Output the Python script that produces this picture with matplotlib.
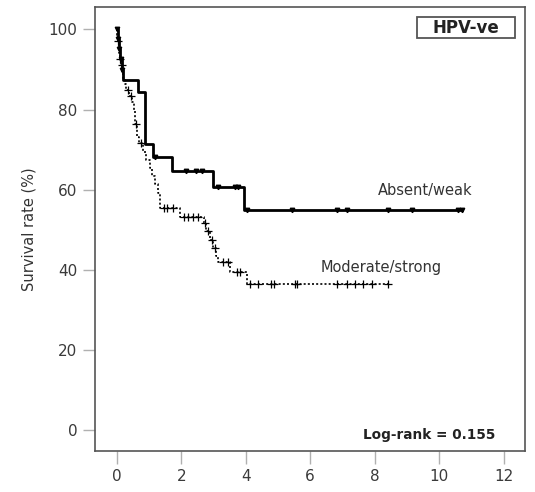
import matplotlib
matplotlib.use("Agg")
import matplotlib.pyplot as plt
from matplotlib.patches import Rectangle
import numpy as np

# Kaplan-Meier steps (time in years, survival %)
absent_times = [0, 0.03, 0.06, 0.1, 0.15, 0.2, 0.66, 0.88, 1.12, 1.7, 2.99, 3.96]
absent_surv = [100, 97.5, 95, 92.5, 90, 87.5, 84.5, 71.4, 68.2, 64.7, 60.7, 55.0]
absent_end = 10.7
absent_censor = [0.02, 0.05, 0.08, 0.12, 0.17, 1.18, 2.16, 2.47, 2.63, 3.15,
                 3.66, 3.77, 4.03, 5.43, 6.82, 7.13, 8.43, 9.15, 10.6, 10.7]

moderate_times = [0, 0.02, 0.04, 0.06, 0.08, 0.1, 0.13, 0.16, 0.2, 0.25, 0.3,
                  0.38, 0.46, 0.52, 0.58, 0.62, 0.7, 0.82, 0.92, 1.02, 1.1,
                  1.18, 1.28, 1.35, 1.96, 2.7, 2.78, 2.88, 2.99, 3.08, 3.15,
                  3.51, 4.03]
moderate_surv = [100, 98.5, 97, 95.5, 94, 92.5, 91, 89.5, 88, 86.5, 85,
                 83.5, 82, 80, 76.5, 73.2, 71.6, 69.5, 67.5, 65.5, 63.5,
                 61.5, 59.1, 55.4, 53.3, 51.6, 49.7, 47.4, 45.5, 43.5, 42,
                 39.5, 36.6]
moderate_end = 8.43
moderate_censor = [0.05, 0.11, 0.15, 0.35, 0.45, 0.6, 0.75, 1.45, 1.55, 1.75,
                   2.1, 2.2, 2.37, 2.52, 2.75, 2.84, 2.94, 3.05, 3.3, 3.45,
                   3.72, 3.82, 4.13, 4.39, 4.8, 4.88, 5.53, 5.6, 6.82, 7.13,
                   7.39, 7.65, 7.91, 8.43]

x_ticks = [0, 2, 4, 6, 8, 10, 12]
y_ticks = [0, 20, 40, 60, 80, 100]


def step_value(times, surv, t):
    idx = np.searchsorted(times, t, side="right") - 1
    return np.asarray(surv)[idx]


fig = plt.figure(figsize=(5.35, 4.92), dpi=100)
ax = fig.add_axes([0.1785, 0.0833, 0.8025, 0.9025])

# absent/weak: solid
ax.step(absent_times + [absent_end], absent_surv + [absent_surv[-1]],
        where="post", color="black", lw=2.0)
ax.plot(absent_censor, step_value(absent_times, absent_surv, absent_censor),
        ls="none", marker="v", ms=3.2, color="black")

# moderate/strong: dotted
ax.step(moderate_times + [moderate_end], moderate_surv + [moderate_surv[-1]],
        where="post", color="black", lw=1.2, ls=(0, (1.2, 1.3)))
ax.plot(moderate_censor, step_value(moderate_times, moderate_surv, moderate_censor),
        ls="none", marker="+", ms=5.5, mew=0.9, color="black")

ax.set_xlim(-0.66, 12.66)
ax.set_ylim(-5.2, 105.6)
ax.set_xticks(x_ticks)
ax.set_yticks(y_ticks)
ax.tick_params(direction="out", length=9, width=1, color="#b0b0b0",
               labelsize=11, labelcolor="#3a3a3a", pad=4)
for sp in ax.spines.values():
    sp.set_color("#555555")
    sp.set_linewidth(1.2)

ax.set_ylabel("Survival rate (%)", fontsize=10.5, color="#333333", labelpad=9)

ax.text(9.56, 58.7, "Absent/weak", fontsize=10.5, color="#333333", ha="center")
ax.text(8.2, 39.5, "Moderate/strong", fontsize=10.5, color="#333333", ha="center")
ax.text(11.75, -1.3, "Log-rank = 0.155", fontsize=9.8, color="#222222",
        fontweight="bold", ha="right", va="center")

# group label box in the top right corner
ax.add_patch(Rectangle((0.7486, 0.930), 0.2281, 0.0475, transform=ax.transAxes,
                       fc="white", ec="#555555", lw=1.3))
ax.text(0.8626, 0.9538, "HPV-ve", transform=ax.transAxes, fontsize=12,
        color="#222222", fontweight="bold", ha="center", va="center")

fig.savefig("out.png", dpi=100)
